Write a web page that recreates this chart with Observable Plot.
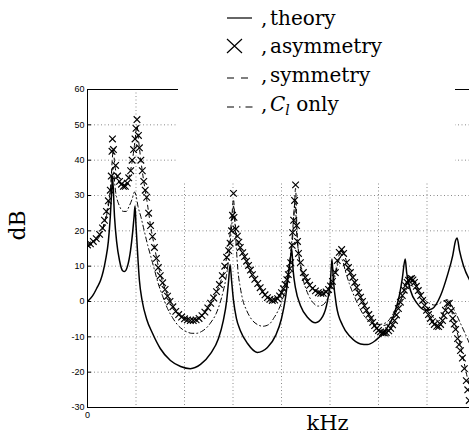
<!DOCTYPE html>
<html>
<head>
<meta charset="utf-8">
<script src="https://cdn.jsdelivr.net/npm/d3@7"></script>
<script src="https://cdn.jsdelivr.net/npm/@observablehq/plot@0.6"></script>
<style>
  html, body { margin: 0; padding: 0; background: white; }
  #wrap { position: relative; width: 469px; height: 436px; overflow: hidden; }
  #legend { position: absolute; left: 180px; top: 0; }
</style>
</head>
<body>
<div id="wrap"></div>
<script>
// ---- data (x in grid units along the kHz axis, y in dB) ----
const yTicks = [60, 50, 40, 30, 20, 10, 0, -10, -20, -30];
const xGrid = [1, 2, 3, 4, 5, 6, 7];
const xTickLabels = [0];

const theory = [[0,0],[0.1,1.5],[0.2,4],[0.27,6],[0.37,11.6],[0.43,17],[0.47,24],[0.505,33],[0.515,35.5],[0.557,24],[0.6,17],[0.66,11.6],[0.72,8.8],[0.763,8.5],[0.825,10],[0.887,14.4],[0.93,19.5],[0.96,24],[0.98,27],[1.0,21.5],[1.03,14.4],[1.07,6],[1.13,0],[1.22,-5],[1.34,-9],[1.5,-13.3],[1.71,-16.7],[1.92,-18.4],[2.12,-19],[2.33,-17.8],[2.54,-14.7],[2.7,-10.5],[2.8,-5.4],[2.87,0.3],[2.91,6],[2.94,10.5],[2.97,6],[3.01,0.3],[3.07,-4.8],[3.15,-8.2],[3.3,-11.9],[3.5,-14.4],[3.71,-13],[3.88,-9.6],[4.0,-4.8],[4.08,0.8],[4.14,7.4],[4.19,13],[4.21,15],[4.24,8.8],[4.29,3.7],[4.39,-1.1],[4.54,-4.5],[4.7,-6],[4.85,-4.2],[4.95,0.3],[5.01,6],[5.04,12],[5.07,6],[5.13,-1],[5.26,-6.8],[5.42,-10],[5.63,-12],[5.77,-12.2],[5.94,-11],[6.14,-8.2],[6.31,-4],[6.43,1.7],[6.49,6.5],[6.55,12],[6.58,8.2],[6.66,3.1],[6.8,-0.6],[6.97,-2.5],[7.11,-2],[7.28,1.7],[7.42,7.4],[7.53,13],[7.59,17.3],[7.62,18],[7.67,14.4],[7.75,10.2],[7.88,6]];

const asymmetry = [[0,16],[0.06,16.3],[0.12,17],[0.18,17.8],[0.25,19],[0.31,20.8],[0.35,23],[0.39,25.5],[0.43,28.5],[0.47,31.5],[0.49,35.5],[0.505,42.5],[0.515,46],[0.535,43],[0.58,38.5],[0.62,35.5],[0.66,34],[0.70,33.2],[0.74,32.6],[0.78,32.6],[0.82,33.5],[0.85,35],[0.89,37],[0.92,40],[0.95,43],[0.98,46],[1.0,49],[1.02,51.5],[1.05,47],[1.07,43.5],[1.10,40],[1.13,37],[1.16,34],[1.19,31.5],[1.22,29.5],[1.26,25],[1.30,21.5],[1.34,18.4],[1.38,15.3],[1.42,12.2],[1.46,9.6],[1.50,7.3],[1.55,5.3],[1.60,3.4],[1.65,1.5],[1.70,0],[1.76,-1.5],[1.82,-2.8],[1.88,-3.7],[1.94,-4.4],[2.0,-4.9],[2.06,-5.2],[2.12,-5.4],[2.18,-5.4],[2.24,-5.2],[2.30,-4.8],[2.36,-4.0],[2.42,-3.0],[2.48,-1.8],[2.54,-0.5],[2.60,1.0],[2.66,2.8],[2.72,4.8],[2.78,7.3],[2.83,10],[2.87,12.5],[2.91,14.4],[2.94,16.5],[2.97,20],[2.99,24.4],[3.01,30.6],[3.02,23.8],[3.06,20.5],[3.09,18.5],[3.12,16.8],[3.15,15.3],[3.20,13.8],[3.24,12.7],[3.28,11.4],[3.32,10.2],[3.36,8.9],[3.40,7.6],[3.45,6.3],[3.51,5.1],[3.56,3.9],[3.61,2.8],[3.66,1.9],[3.71,1.1],[3.76,0.6],[3.81,0.3],[3.86,0.4],[3.92,0.8],[3.96,1.6],[4.0,2.5],[4.04,3.6],[4.08,4.8],[4.11,6.2],[4.14,7.6],[4.17,9.3],[4.19,11],[4.22,15.9],[4.23,19.5],[4.25,23],[4.27,28.6],[4.29,33],[4.31,21.5],[4.33,17],[4.35,13.6],[4.39,11],[4.45,8.2],[4.49,6.8],[4.53,5.7],[4.58,4.6],[4.64,3.7],[4.70,3],[4.76,2.5],[4.81,2.3],[4.86,2.3],[4.92,2.7],[4.97,3.4],[5.01,4.4],[5.05,5.7],[5.11,8.2],[5.15,11.6],[5.19,13.9],[5.24,14.7],[5.28,13.6],[5.34,11],[5.38,9.6],[5.42,8.2],[5.47,6.8],[5.51,5.4],[5.55,4],[5.59,2.5],[5.63,1.2],[5.67,0],[5.71,-1.2],[5.75,-2.5],[5.80,-3.7],[5.84,-4.8],[5.88,-5.9],[5.92,-6.8],[5.96,-7.6],[6.0,-8.2],[6.04,-8.6],[6.08,-8.8],[6.12,-8.9],[6.16,-8.8],[6.21,-8.3],[6.25,-7.6],[6.29,-6.6],[6.33,-5.4],[6.37,-3.8],[6.41,-2],[6.45,-0.2],[6.49,1.7],[6.53,3.2],[6.56,4.5],[6.59,5.4],[6.62,6],[6.65,6.4],[6.68,6.5],[6.71,6.1],[6.74,5.4],[6.78,4.3],[6.82,3.1],[6.87,1.7],[6.91,0.3],[6.95,-1.1],[6.99,-2.5],[7.03,-3.7],[7.07,-4.8],[7.11,-5.7],[7.15,-6.5],[7.20,-7],[7.24,-7.1],[7.28,-6.5],[7.32,-5.4],[7.35,-4],[7.38,-2.5],[7.42,-0.6],[7.46,-0.5],[7.50,-2.6],[7.53,-4.8],[7.56,-6.4],[7.59,-7.9],[7.63,-10.5],[7.66,-12.2],[7.69,-13.9],[7.73,-16],[7.77,-19],[7.81,-22.4],[7.84,-25],[7.87,-28]];

const symmetry = [[0,15.8],[0.12,16.8],[0.25,18.8],[0.35,22.5],[0.43,28],[0.48,33],[0.51,40],[0.53,43],[0.56,39],[0.62,35],[0.7,33],[0.78,32.8],[0.85,35],[0.92,39.5],[0.98,45.5],[1.02,50],[1.05,46],[1.1,40],[1.16,34],[1.22,29],[1.3,21.5],[1.38,15.5],[1.46,10],[1.55,5.5],[1.65,1.8],[1.76,-1.2],[1.88,-3.3],[2.0,-4.5],[2.12,-5],[2.24,-4.9],[2.36,-3.8],[2.48,-1.8],[2.6,1],[2.72,4.8],[2.8,8],[2.87,12.5],[2.93,18],[2.97,23],[3.01,29],[3.04,23],[3.08,18.5],[3.15,15],[3.24,12.5],[3.34,9],[3.45,6],[3.56,3.6],[3.66,1.8],[3.76,0.8],[3.86,0.8],[3.96,1.8],[4.04,3.8],[4.11,6.5],[4.17,10],[4.22,16],[4.26,25],[4.29,32],[4.32,20],[4.36,13],[4.45,8],[4.55,5.3],[4.65,3.5],[4.76,2.6],[4.86,2.5],[4.97,3.5],[5.05,5.8],[5.12,9],[5.18,12.8],[5.24,14.5],[5.3,13],[5.38,9.5],[5.48,6],[5.58,2.8],[5.68,-0.2],[5.78,-3],[5.88,-5],[5.98,-6.3],[6.08,-6.8],[6.18,-6.5],[6.28,-5],[6.38,-2.5],[6.48,1.2],[6.56,4.3],[6.63,6],[6.69,6.3],[6.76,5],[6.85,2.5],[6.95,-0.2],[7.05,-2.8],[7.15,-4.8],[7.24,-5.5],[7.32,-4],[7.4,-1.5],[7.46,-0.3],[7.53,-4],[7.6,-7.5],[7.68,-12],[7.76,-17],[7.84,-22],[7.88,-24]];

const clOnly = [[0,15.5],[0.12,16.5],[0.25,18.5],[0.35,22],[0.43,27],[0.47,31],[0.5,36],[0.52,38],[0.58,31],[0.66,27],[0.74,25.5],[0.8,25.5],[0.86,27],[0.92,29],[0.97,31],[1.0,30],[1.04,27],[1.1,24],[1.17,20],[1.24,16],[1.3,13],[1.38,9],[1.46,5],[1.55,1.5],[1.65,-2],[1.75,-4.5],[1.85,-6.5],[1.95,-7.8],[2.05,-8.6],[2.15,-9],[2.25,-9],[2.35,-8.5],[2.45,-7.5],[2.55,-5.8],[2.65,-3.5],[2.73,-0.5],[2.8,3],[2.86,7],[2.91,12],[2.95,18],[2.99,24],[3.01,27],[3.04,22],[3.07,15],[3.1,9],[3.15,4],[3.2,0.5],[3.28,-2.5],[3.38,-5],[3.5,-6.5],[3.62,-7],[3.74,-6.5],[3.85,-4.5],[3.95,-2],[4.03,1],[4.1,5],[4.15,9],[4.19,14],[4.23,20],[4.26,26],[4.28,29],[4.31,20],[4.35,14],[4.4,9],[4.47,5],[4.55,2],[4.65,-0.3],[4.75,-1.3],[4.85,-1],[4.95,0.8],[5.03,3.5],[5.1,7],[5.16,10.5],[5.21,12.5],[5.26,11.5],[5.32,8.5],[5.4,5],[5.5,1.5],[5.6,-1.5],[5.7,-4],[5.8,-5.5],[5.9,-6.3],[6.0,-6.5],[6.1,-6.3],[6.2,-5.5],[6.3,-3.5],[6.4,-1],[6.5,1.5],[6.58,3.5],[6.66,4.5],[6.74,4],[6.84,2.3],[6.95,0.5],[7.05,-0.5],[7.15,-1],[7.25,-0.6],[7.35,0.2],[7.42,0.5],[7.5,-1],[7.6,-3.5],[7.7,-6.5],[7.8,-9.5],[7.88,-12]];

const legendItems = ["theory", "asymmetry", "symmetry", "only"];

// ---- chart ----
const X = d => d[0], Y = d => d[1];
const gridStyle = {stroke: "#8a8a8a", strokeOpacity: 1, strokeWidth: 1, strokeDasharray: "1,2.5"};

const chart = Plot.plot({
  width: 469,
  height: 436,
  marginLeft: 87,
  marginRight: 0,
  marginTop: 89,
  marginBottom: 29,
  x: {domain: [0, 7.876], label: null},
  y: {domain: [-30, 60], label: null},
  style: {background: "white", fontFamily: "'Liberation Sans', Arial, sans-serif", color: "black"},
  marks: [
    Plot.gridX(xGrid, gridStyle),
    Plot.gridY(yTicks.filter(d => d > -30 && d < 60), gridStyle),
    Plot.ruleX([0], {stroke: "black", strokeWidth: 1}),
    Plot.ruleY([60, -30], {stroke: "black", strokeWidth: 1}),
    Plot.axisY(yTicks, {tickSize: 0, tickPadding: 3, fontSize: 9, tickFormat: d => String(d), label: null}),
    Plot.axisY(yTicks, {tickSize: 4, dx: 4, tickFormat: () => "", label: null}),
    Plot.axisX(xTickLabels, {tickSize: 0, tickPadding: 4, fontSize: 9, label: null}),
    Plot.line(theory, {x: X, y: Y, stroke: "black", strokeWidth: 1.5, curve: "monotone-x", clip: true}),
    Plot.line(clOnly, {x: X, y: Y, stroke: "black", strokeWidth: 1, strokeDasharray: "5,3,1,3", curve: "monotone-x", clip: true}),
    Plot.line(symmetry, {x: X, y: Y, stroke: "black", strokeWidth: 1, strokeDasharray: "4,4", curve: "monotone-x", clip: true}),
    Plot.dot(asymmetry, {x: X, y: Y, symbol: "times", r: 3.1, stroke: "black", strokeWidth: 1.15, fill: "none", clip: true}),
    Plot.text(["dB"], {text: d => d, frameAnchor: "left", dx: -70, dy: -8, rotate: -90, fontSize: 22, fontFamily: "'DejaVu Serif', serif", lineAnchor: "middle"}),
    Plot.text(["kHz"], {text: d => d, frameAnchor: "bottom", dx: 49, dy: 16, fontSize: 21, fontFamily: "'DejaVu Serif', serif", lineAnchor: "middle"})
  ]
});

const wrap = document.getElementById("wrap");
wrap.appendChild(chart);

// ---- legend (white box overlapping the top of the axes) ----
const ox = 178; // legend box left edge in page px
const lg = d3.create("svg")
  .attr("id", "legend")
  .attr("width", 277)
  .attr("height", 181)
  .style("position", "absolute").style("left", ox + "px").style("top", "0px");
lg.append("rect").attr("width", 277).attr("height", 181).attr("fill", "white");
const font = "'DejaVu Serif', serif";
const rows = [25, 53, 82, 111];
// symbols
lg.append("line").attr("x1", 227 - ox).attr("x2", 252 - ox).attr("y1", 18).attr("y2", 18).attr("stroke", "black").attr("stroke-width", 1.2);
lg.append("path").attr("d", `M${227 - ox},${39}L${242 - ox},${53}M${242 - ox},${39}L${227 - ox},${53}`).attr("stroke", "black").attr("stroke-width", 1.2).attr("fill", "none");
lg.append("line").attr("x1", 227 - ox).attr("x2", 252 - ox).attr("y1", 78).attr("y2", 78).attr("stroke", "black").attr("stroke-width", 1.2).attr("stroke-dasharray", "7,7");
lg.append("line").attr("x1", 227 - ox).attr("x2", 253 - ox).attr("y1", 107).attr("y2", 107).attr("stroke", "black").attr("stroke-width", 1.2).attr("stroke-dasharray", "7,5,1.5,5");
// texts
rows.forEach((by, i) => {
  lg.append("text").attr("x", 261 - ox).attr("y", by).attr("font-family", font).attr("font-size", 20).text(",");
  const t = lg.append("text").attr("x", 270 - ox).attr("y", by).attr("font-family", font).attr("font-size", 20);
  if (i === 3) {
    t.append("tspan").attr("font-style", "italic").text("C");
    t.append("tspan").attr("font-style", "italic").attr("font-size", 14).attr("dy", 4).text("l");
    t.append("tspan").attr("dy", -4).text(" " + legendItems[i]);
  } else {
    t.text(legendItems[i]);
  }
});
wrap.appendChild(lg.node());
</script>
</body>
</html>
